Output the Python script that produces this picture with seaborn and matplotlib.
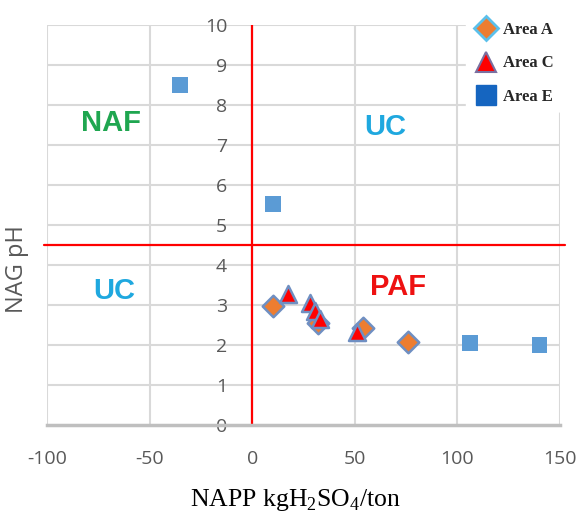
import matplotlib
matplotlib.use("Agg")
import matplotlib.pyplot as plt
import seaborn as sns
import pandas as pd
from matplotlib.lines import Line2D

# data
area_a_x = [10, 32, 54, 76]
area_a_y = [2.97, 2.55, 2.43, 2.07]
area_c_x = [17.5, 28, 30.5, 33, 51]
area_c_y = [3.27, 3.05, 2.85, 2.65, 2.32]
area_e_x = [-35, 10, 106, 140]
area_e_y = [8.5, 5.52, 2.05, 2.0]

x_ticks = [-100, -50, 0, 50, 100, 150]
y_ticks = list(range(0, 11))

df = pd.concat([
    pd.DataFrame({"napp": area_a_x, "ph": area_a_y, "area": "Area A"}),
    pd.DataFrame({"napp": area_c_x, "ph": area_c_y, "area": "Area C"}),
    pd.DataFrame({"napp": area_e_x, "ph": area_e_y, "area": "Area E"}),
])

sns.set_theme(style="white")
plt.rcParams["font.family"] = ["Open Sans", "DejaVu Sans"]
plt.rcParams["axes.unicode_minus"] = False
plt.rcParams["mathtext.fontset"] = "custom"
plt.rcParams["mathtext.rm"] = "Liberation Serif"

fig = plt.figure(figsize=(5.84, 5.14), dpi=100)
ax = fig.add_axes([47 / 584, 1 - 425 / 514, 513 / 584, 400 / 514])

# grid
for gx in x_ticks:
    ax.axvline(gx, color="#d9d9d9", lw=1.5, zorder=0)
for gy in y_ticks[1:]:
    ax.axhline(gy, color="#d9d9d9", lw=1.5, zorder=0)

# threshold lines
ax.axvline(0, color="#ff0000", lw=1.6, zorder=1)
ax.axhline(4.5, xmin=-0.005, xmax=1.01, color="#ff0000", lw=1.6, zorder=1, clip_on=False)

sns.scatterplot(data=df[df.area == "Area E"], x="napp", y="ph", marker="s", s=130,
                color="#5b9bd5", edgecolor="none", ax=ax, zorder=3, legend=False)
sns.scatterplot(data=df[df.area == "Area A"], x="napp", y="ph", marker="D", s=120,
                color="#ed7d31", edgecolor="#6f8fc2", linewidth=1.8, ax=ax, zorder=3, legend=False)
sns.scatterplot(data=df[df.area == "Area C"], x="napp", y="ph", marker="^", s=150,
                color="#ff0000", edgecolor="#6f8fc2", linewidth=1.8, ax=ax, zorder=4, legend=False)

ax.set_xlim(-100, 150)
ax.set_ylim(0, 10)
ax.set_xticks(x_ticks)
ax.set_yticks(y_ticks)

for side in ["top", "right"]:
    ax.spines[side].set_visible(False)
ax.spines["bottom"].set_color("#bfbfbf")
ax.spines["bottom"].set_linewidth(2.5)
ax.spines["left"].set_position(("data", 0))
ax.spines["left"].set_visible(False)
ax.tick_params(axis="x", length=0, pad=18, labelsize=14, labelcolor="#595959")
ax.tick_params(axis="y", length=0, pad=18, labelsize=14, labelcolor="#595959")

ax.set_xlabel(r"NAPP kgH$_2$SO$_4$/ton", family="Liberation Serif", fontsize=18.5,
              color="black")
ax.xaxis.set_label_coords(0.485, -0.155)
ax.set_ylabel("NAG pH", fontsize=17, color="#595959")
ax.yaxis.set_label_coords(-0.035, 0.39)

# zone labels
zone_font = dict(family="Liberation Sans", fontsize=21, fontweight="bold", ha="center", va="center")
ax.text(-69, 7.55, "NAF", color="#1fa650", **zone_font)
ax.text(65, 7.45, "UC", color="#1fa8df", **zone_font)
ax.text(-67, 3.35, "UC", color="#1fa8df", **zone_font)
ax.text(71, 3.45, "PAF", color="#ee1111", **zone_font)

handles = [
    Line2D([], [], marker="D", ls="none", markersize=12, markerfacecolor="#ed7d31",
           markeredgecolor="#5bc0eb", markeredgewidth=2),
    Line2D([], [], marker="^", ls="none", markersize=15, markerfacecolor="#ff0000",
           markeredgecolor="#7a6fa0", markeredgewidth=1.5),
    Line2D([], [], marker="s", ls="none", markersize=15, markerfacecolor="#1565c0",
           markeredgecolor="#1565c0"),
]
leg = fig.legend(handles, ["Area A", "Area C", "Area E"], loc="upper left",
                 bbox_to_anchor=(458 / 584, 1 - 7 / 514), bbox_transform=fig.transFigure,
                 frameon=True, facecolor="white", edgecolor="white", framealpha=1,
                 prop={"family": "Liberation Serif", "weight": "bold", "size": 12},
                 handletextpad=0.3, labelspacing=1.05, borderpad=0.4, handlelength=1.5)

fig.savefig("out.png", dpi=100)
